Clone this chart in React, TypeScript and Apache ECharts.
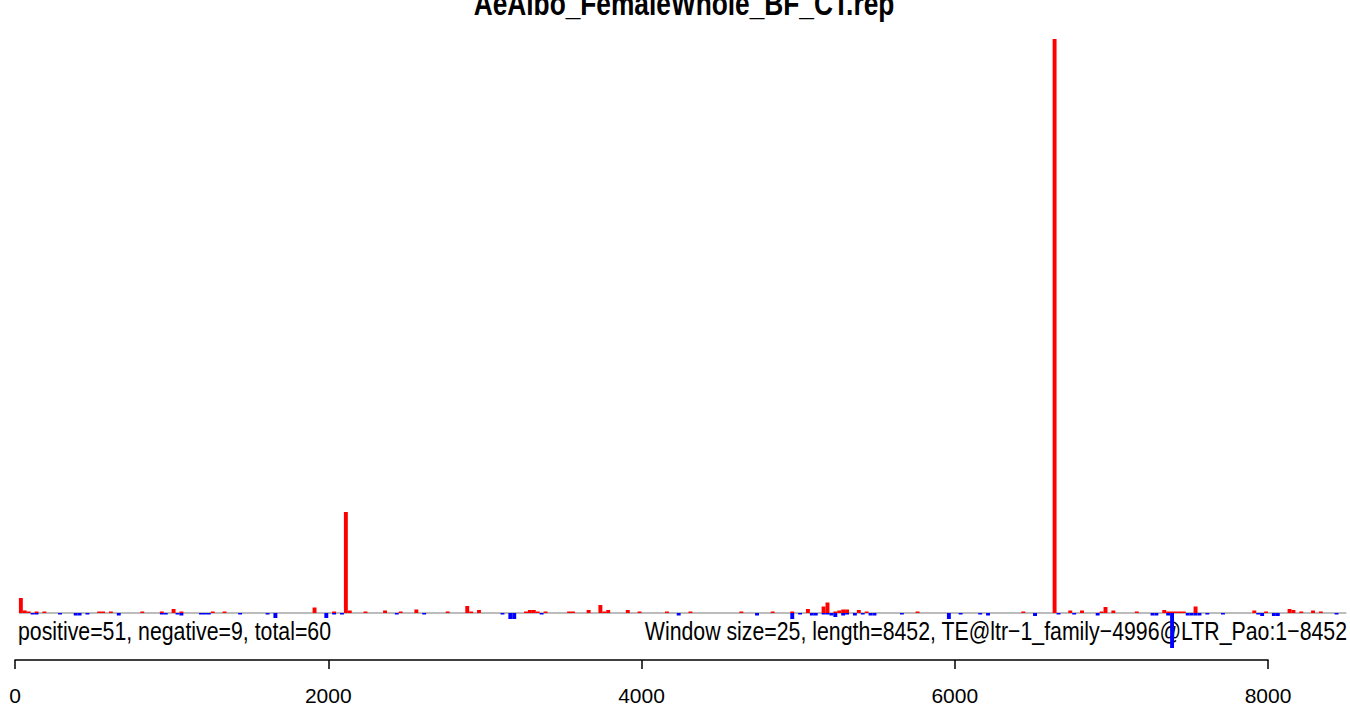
import React, { useEffect, useRef } from "react";
import * as echarts from "echarts";

const TITLE = "AeAlbo_FemaleWhole_BF_CT.rep";
const LEFT_NOTE = "positive=51, negative=9, total=60";
const RIGHT_NOTE = "Window size=25, length=8452, TE@ltr\u22121_family\u22124996@LTR_Pao:1\u22128452";
const WINDOW_SIZE = 25;
const AXIS_TICKS = [0, 2000, 4000, 6000, 8000];

// window indices (start = index * 25) and heights for the sense (positive) strand
const posWindows = [1, 2, 3, 5, 7, 21, 22, 24, 32, 37, 40, 42, 50, 53, 76, 81, 84, 85, 89, 94, 98, 102, 110,
  115, 116, 118, 130, 131, 132, 133, 135, 141, 142, 146, 149, 150, 151, 156, 159, 166, 172, 185, 193, 198, 202,
  206, 207, 209, 210, 211, 212, 215, 217, 230, 257, 265, 269, 272, 277, 278, 280, 286, 293, 294, 295, 296, 297,
  298, 301, 316, 319, 325, 326, 328, 331, 333];
const posValues = [15, 2.5, 1.5, 1.5, 1.5, 1.5, 1.5, 1.5, 1.5, 1.5, 4, 1.5, 1.5, 1.5, 5.5, 1.5, 101, 2.5, 1.5, 2.5, 1.5, 3.5, 1.5,
  7, 1.5, 3, 1.5, 3, 3, 1.5, 1.5, 1.5, 1.5, 3, 8, 1.5, 3, 3, 1.5, 1.5, 1.5, 1.5, 1.5, 1.5, 4,
  6.5, 10.5, 1.5, 2.5, 3.5, 3.5, 3, 1.5, 1.5, 1.5, 574, 2.5, 2.5, 1.5, 6, 2.5, 1.5, 3, 1.5, 1.5, 1.5, 1.5,
  1.5, 6.5, 2.5, 1.5, 4, 3, 1.5, 2.5, 1.5];

// window indices and depths for the antisense (negative) strand
const negWindows = [4, 5, 11, 15, 16, 18, 26, 37, 38, 41, 42, 47, 48, 49, 57, 64, 66, 79, 81, 83, 97, 104,
  124, 126, 127, 134, 169, 189, 198, 200, 203, 204, 206, 207, 208, 209, 211, 212, 214, 216, 218, 219, 226,
  238, 241, 246, 248, 260, 266, 270, 276, 290, 291, 294, 295, 299, 300, 301, 302, 304, 308, 317, 318, 321, 322, 337];
const negValues = [-1.5, -1.5, -1.5, -2.5, -2.5, -1.5, -2.5, -1.5, -1.5, -1.5, -2.5, -1.5, -1.5, -1.5, -1.5, -1.5, -5, -5, -1.5, -1.5, -1.5, -1.5,
  -1.5, -6, -6, -1.5, -2.5, -2.5, -6, -1.5, -2.5, -2.5, -1.5, -1.5, -2.5, -4, -2.5, -1.5, -2.5, -1.5, -2.5, -2.5, -1.5,
  -6, -1.5, -1.5, -2.5, -3, -1.5, -1.5, -2.5, -2.5, -2.5, -2.5, -35, -2.5, -2.5, -2.5, -2.5, -1.5, -1.5, -1.5, -3, -3, -3, -1.5];

const PX_PER_UNIT = 1253 / 8000;

export default function App() {
  const ref = useRef<HTMLDivElement>(null);
  useEffect(() => {
    if (!ref.current) return;
    const chart = echarts.init(ref.current, undefined, { renderer: "svg" });
    const posData = posWindows.map((w, i) => [w * WINDOW_SIZE, (w + 1) * WINDOW_SIZE, posValues[i]]);
    const negData = negWindows.map((w, i) => [w * WINDOW_SIZE, (w + 1) * WINDOW_SIZE, negValues[i]]);
    const renderItem = (color: string) => (params: any, api: any) => {
      const s = api.value(0);
      const e = api.value(1);
      const v = api.value(2);
      const p0 = api.coord([s, 0]);
      const p1 = api.coord([e, v]);
      return {
        type: "rect",
        shape: {
          x: p0[0],
          y: Math.min(p0[1], p1[1]),
          width: p1[0] - p0[0],
          height: Math.abs(p1[1] - p0[1]),
        },
        style: { fill: color },
      };
    };
    const xMax = 8500;
    chart.setOption({
      animation: false,
      grid: [
        { left: 15, top: 39, width: xMax * PX_PER_UNIT, height: 614 },
        { left: 15, top: 600, width: 8000 * PX_PER_UNIT, height: 60 },
      ],
      xAxis: [
        { type: "value", gridIndex: 0, min: 0, max: xMax, show: false },
        {
          type: "value",
          gridIndex: 1,
          min: AXIS_TICKS[0],
          max: AXIS_TICKS[AXIS_TICKS.length - 1],
          interval: 2000,
          position: "bottom",
          axisLine: { show: true, lineStyle: { color: "#000", width: 1.5 } },
          axisTick: { show: true, length: 9, inside: false, lineStyle: { color: "#000", width: 1.5 } },
          axisLabel: {
            show: true,
            margin: 25,
            color: "#000",
            fontSize: 21,
            fontFamily: "Liberation Sans",
            showMinLabel: true,
            showMaxLabel: true,
            formatter: (v: number) => String(v),
          },
          splitLine: { show: false },
        },
      ],
      yAxis: [
        { type: "value", gridIndex: 0, min: -40, max: 574, show: false },
        { type: "value", gridIndex: 1, min: 0, max: 1, show: false },
      ],
      series: [
        {
          type: "custom",
          xAxisIndex: 0,
          yAxisIndex: 0,
          renderItem: renderItem("#ff0000"),
          encode: { x: [0, 1], y: 2 },
          data: posData,
          z: 2,
        },
        {
          type: "custom",
          xAxisIndex: 0,
          yAxisIndex: 0,
          renderItem: renderItem("#0000ff"),
          encode: { x: [0, 1], y: 2 },
          data: negData,
          z: 2,
          markLine: {
            silent: true,
            symbol: "none",
            label: { show: false },
            lineStyle: { color: "#a6a6a6", width: 1.5, type: "solid" },
            data: [[{ coord: [WINDOW_SIZE, 0] }, { coord: [xMax, 0] }]],
            z: 1,
          },
        },
        { type: "line", xAxisIndex: 1, yAxisIndex: 1, data: [] },
      ],
      graphic: [
        {
          type: "text",
          x: 684,
          y: 3,
          scaleY: 1.25,
          style: {
            text: TITLE,
            fontFamily: "Liberation Sans",
            fontWeight: "bold",
            fontSize: 26.3,
            fill: "#000",
            align: "center",
            verticalAlign: "middle",
          },
        },
        {
          type: "text",
          x: 18,
          y: 631,
          scaleY: 1.25,
          style: {
            text: LEFT_NOTE,
            fontFamily: "Liberation Sans",
            fontSize: 21.3,
            fill: "#000",
            align: "left",
            verticalAlign: "middle",
          },
        },
        {
          type: "text",
          x: 1347,
          y: 631,
          scaleY: 1.25,
          style: {
            text: RIGHT_NOTE,
            fontFamily: "Liberation Sans",
            fontSize: 21.3,
            fill: "#000",
            align: "right",
            verticalAlign: "middle",
          },
        },
      ],
    });
    return () => chart.dispose();
  }, []);
  return (
    <div
      ref={ref}
      style={{ position: "fixed", left: 0, top: 0, width: 1350, height: 711, background: "#fff" }}
    />
  );
}
